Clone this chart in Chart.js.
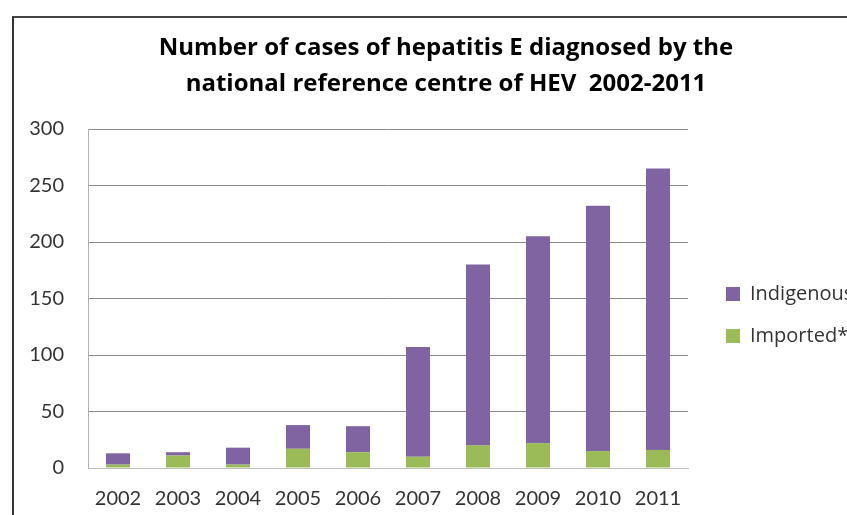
<!DOCTYPE html>
<html>
<head>
<meta charset="utf-8">
<script src="https://cdn.jsdelivr.net/npm/chart.js@4.4.1/dist/chart.umd.min.js"></script>
<style>
body{margin:0;background:#fff;overflow:hidden;}
#frame{position:absolute;left:12px;top:16px;width:900px;height:600px;border-left:2px solid #333;border-top:2px solid #444;}
#wrap{position:absolute;left:0;top:0;width:892px;height:515px;}
</style>
</head>
<body>
<div id="frame"></div>
<!-- canvas is wider than the window so the title centre and the cut legend match the original -->
<div id="wrap"><canvas id="chart" width="892" height="515"></canvas></div>
<script>
//years on the x axis
var years=["2002","2003","2004","2005","2006","2007","2008","2009","2010","2011"];
//imported cases (green, bottom of stack)
var imported=[3,11,3,17,14,10,20,22,15,16];
//indigenous cases (purple, on top)
var indigenous=[10,3,15,21,23,97,160,183,217,249];
//y axis range
var yMin=0, yMax=300, yStep=50;

var titleLines=["Number of cases of hepatitis E diagnosed by the","national reference centre of HEV  2002-2011"];

Chart.defaults.font.family="Lato";
Chart.defaults.color="#333";

//empty axis used only as a spacer
function spacer(w,weight){
    return {
        position:'right',
        weight:weight,
        display:true,
        grid:{display:false},
        ticks:{display:false},
        border:{display:false},
        afterFit:function(s){s.width=w;}
    };
}

var plot=new Chart(document.getElementById("chart"),{
    type:'bar',
    data:{
        labels:years,
        datasets:[
            {label:"Imported*",data:imported,backgroundColor:"#9BBB59",barPercentage:0.5,categoryPercentage:0.8},
            {label:"Indigenous",data:indigenous,backgroundColor:"#8064A2",barPercentage:0.5,categoryPercentage:0.8}
        ]
    },
    options:{
        responsive:false,
        animation:false,
        layout:{padding:0},
        plugins:{
            tooltip:{enabled:false},
            title:{
                display:true,
                text:titleLines,
                color:"#000",
                font:{family:"Open Sans",size:24,weight:'bold',lineHeight:'36px'},
                padding:{top:30,bottom:27}
            },
            legend:{
                position:'right',
                fullSize:false,
                reverse:true,
                maxWidth:143,
                title:{display:true,text:' ',font:{size:15,lineHeight:1},padding:{top:9,bottom:9}},
                labels:{boxWidth:14,boxHeight:14,padding:22,color:"#333",font:{family:"Open Sans",size:20}}
            }
        },
        scales:{
            x:{
                stacked:true,
                grid:{display:false,drawTicks:false},
                border:{display:true,color:"#c0c0c0"},
                ticks:{font:{size:20},padding:19,color:"#333"},
                afterFit:function(s){s.height=47;}
            },
            y:{
                stacked:true,
                min:yMin,max:yMax,
                ticks:{stepSize:yStep,font:{size:20},padding:24,color:"#333"},
                grid:{drawTicks:false,color:function(c){return c.tick && c.tick.value===0?"#c0c0c0":"#8c8c8c";}},
                border:{display:true,color:"#b0b0b0"},
                afterFit:function(s){s.width=88;}
            },
            gap:spacer(16,0),
            outer:spacer(45,2000)
        }
    }
});
</script>
</body>
</html>
